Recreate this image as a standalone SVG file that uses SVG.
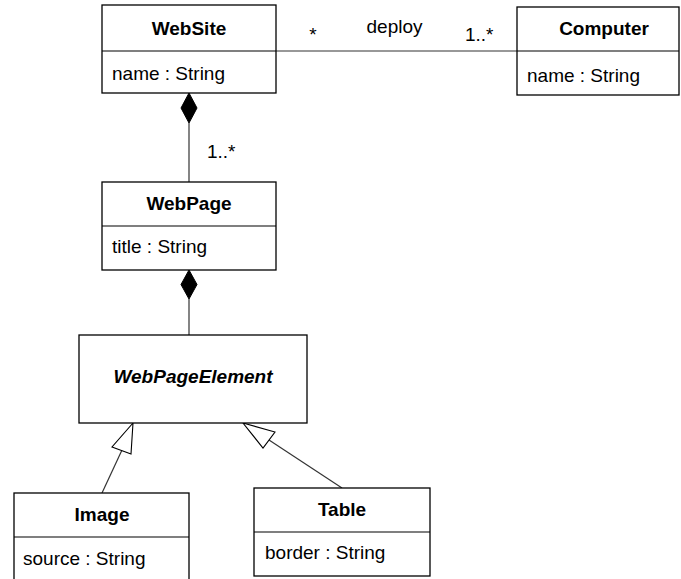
<svg xmlns="http://www.w3.org/2000/svg" width="681" height="579" viewBox="0 0 681 579">
<style>
.box{fill:#fff;stroke:#000;stroke-width:1.3}
.div{stroke:#000;stroke-width:1.1}
.t{font-family:"Liberation Sans",Arial,sans-serif;font-size:19px;fill:#000}
.b{font-weight:bold;text-anchor:middle}
.c{stroke:#333;stroke-width:1.2;fill:none}
.dia{fill:#000;stroke:#000;stroke-width:1}
.tri{fill:#fff;stroke:#000;stroke-width:1.1}
</style>
<rect width="681" height="579" fill="#fff"/>
<g id="connectors">
<line class="c" x1="276" y1="51" x2="517" y2="51"/>
<text class="t" x="313" y="41" text-anchor="middle">*</text>
<text class="t" x="394.5" y="33" text-anchor="middle">deploy</text>
<text class="t" x="465" y="41">1..*</text>
<line class="c" x1="189" y1="123" x2="189" y2="182"/>
<polygon class="dia" points="189,93 197,108 189,123 181,108"/>
<text class="t" x="207" y="158">1..*</text>
<line class="c" x1="189" y1="299" x2="189" y2="335"/>
<polygon class="dia" points="189,270 197,284.5 189,299 181,284.5"/>
<line class="c" x1="102" y1="493" x2="122" y2="450"/>
<polygon class="tri" points="133,423 131,454 112,447"/>
<line class="c" x1="342" y1="488" x2="269" y2="440"/>
<polygon class="tri" points="243,423 275,432 263,448"/>
</g>
<g id="WebSite">
<rect class="box" x="102" y="5" width="174" height="88"/>
<line class="div" x1="102" y1="51" x2="276" y2="51"/>
<text class="t b" x="189" y="35">WebSite</text>
<text class="t" x="112" y="80">name : String</text>
</g>
<g id="Computer">
<rect class="box" x="517" y="7" width="162" height="88"/>
<line class="div" x1="517" y1="51" x2="679" y2="51"/>
<text class="t b" x="604" y="35">Computer</text>
<text class="t" x="527" y="82">name : String</text>
</g>
<g id="WebPage">
<rect class="box" x="102" y="182" width="174" height="88"/>
<line class="div" x1="102" y1="226" x2="276" y2="226"/>
<text class="t b" x="189" y="210">WebPage</text>
<text class="t" x="112" y="253">title : String</text>
</g>
<g id="WebPageElement">
<rect class="box" x="79" y="335" width="228" height="88"/>
<text class="t b" x="193" y="383" font-style="italic">WebPageElement</text>
</g>
<g id="Image">
<rect class="box" x="14" y="493" width="175" height="90"/>
<line class="div" x1="14" y1="537" x2="189" y2="537"/>
<text class="t b" x="102" y="521">Image</text>
<text class="t" x="23" y="565">source : String</text>
</g>
<g id="Table">
<rect class="box" x="254" y="488" width="176" height="88"/>
<line class="div" x1="254" y1="532" x2="430" y2="532"/>
<text class="t b" x="342" y="516">Table</text>
<text class="t" x="265" y="559">border : String</text>
</g>
</svg>
